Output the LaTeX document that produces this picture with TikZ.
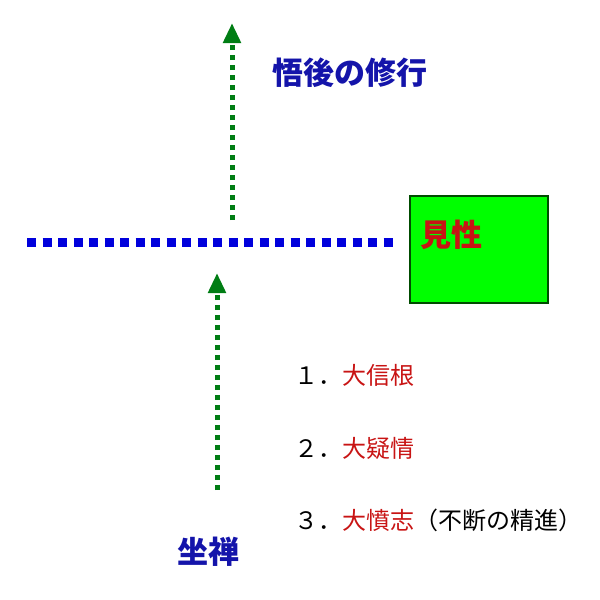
\documentclass[tikz,border=0pt]{standalone}
\usepackage{fontspec}
\setmainfont{Noto Sans CJK JP}
\usetikzlibrary{arrows.meta}
\definecolor{titleblue}{RGB}{20,20,170}
\definecolor{itemred}{RGB}{200,20,20}
\definecolor{lineblue}{RGB}{0,0,220}
\definecolor{arrowgreen}{RGB}{0,125,20}
\definecolor{boxgreen}{RGB}{0,255,0}
\begin{document}
\begin{tikzpicture}[x=1pt, y=-1pt,
        title/.style={font=\fontsize{31}{31}\selectfont\bfseries, text=titleblue, inner sep=0pt},
        item/.style={font=\fontsize{24}{24}\selectfont, anchor=west, inner sep=0pt},
        stage/.style={rectangle, draw=black!70!green, line width=1.5pt, fill=boxgreen, minimum width=138pt, minimum height=107pt},
        barrier/.style={draw=lineblue, line width=9pt, dash pattern=on 9pt off 6.5pt},
        ascent/.style={draw=arrowgreen, line width=5pt, dash pattern=on 5pt off 5pt, -{Triangle[length=20pt, width=17pt]}}
    ]
    \useasboundingbox (0,0) rectangle (600,600);
    \node[title] (goal) at (350,73) {悟後の修行};
    \node[stage] (kensho) at (479,249.5) {};
    \node[title, text=itemred] (kenshoname) at (451,235) {見性};
    \node[title] (zazen) at (208,552) {坐禅};
    \node[item] (item1) at (294,375) {１．\textcolor{itemred}{大信根}};
    \node[item] (item2) at (294,448) {２．\textcolor{itemred}{大疑情}};
    \node[item] (item3) at (294,520) {３．\textcolor{itemred}{大憤志}（不断の精進）};
    \coordinate (barrier west) at (27,242);
    \coordinate (barrier east) at (393,242);
    \coordinate (upper start) at (232,220);
    \coordinate (upper tip) at (232,23);
    \coordinate (lower start) at (217,490);
    \coordinate (lower tip) at (217,273);
    \draw[barrier] (barrier west) -- (barrier east);
    \draw[ascent] (upper start) -- (upper tip);
    \draw[ascent] (lower start) -- (lower tip);
\end{tikzpicture}
\end{document}
